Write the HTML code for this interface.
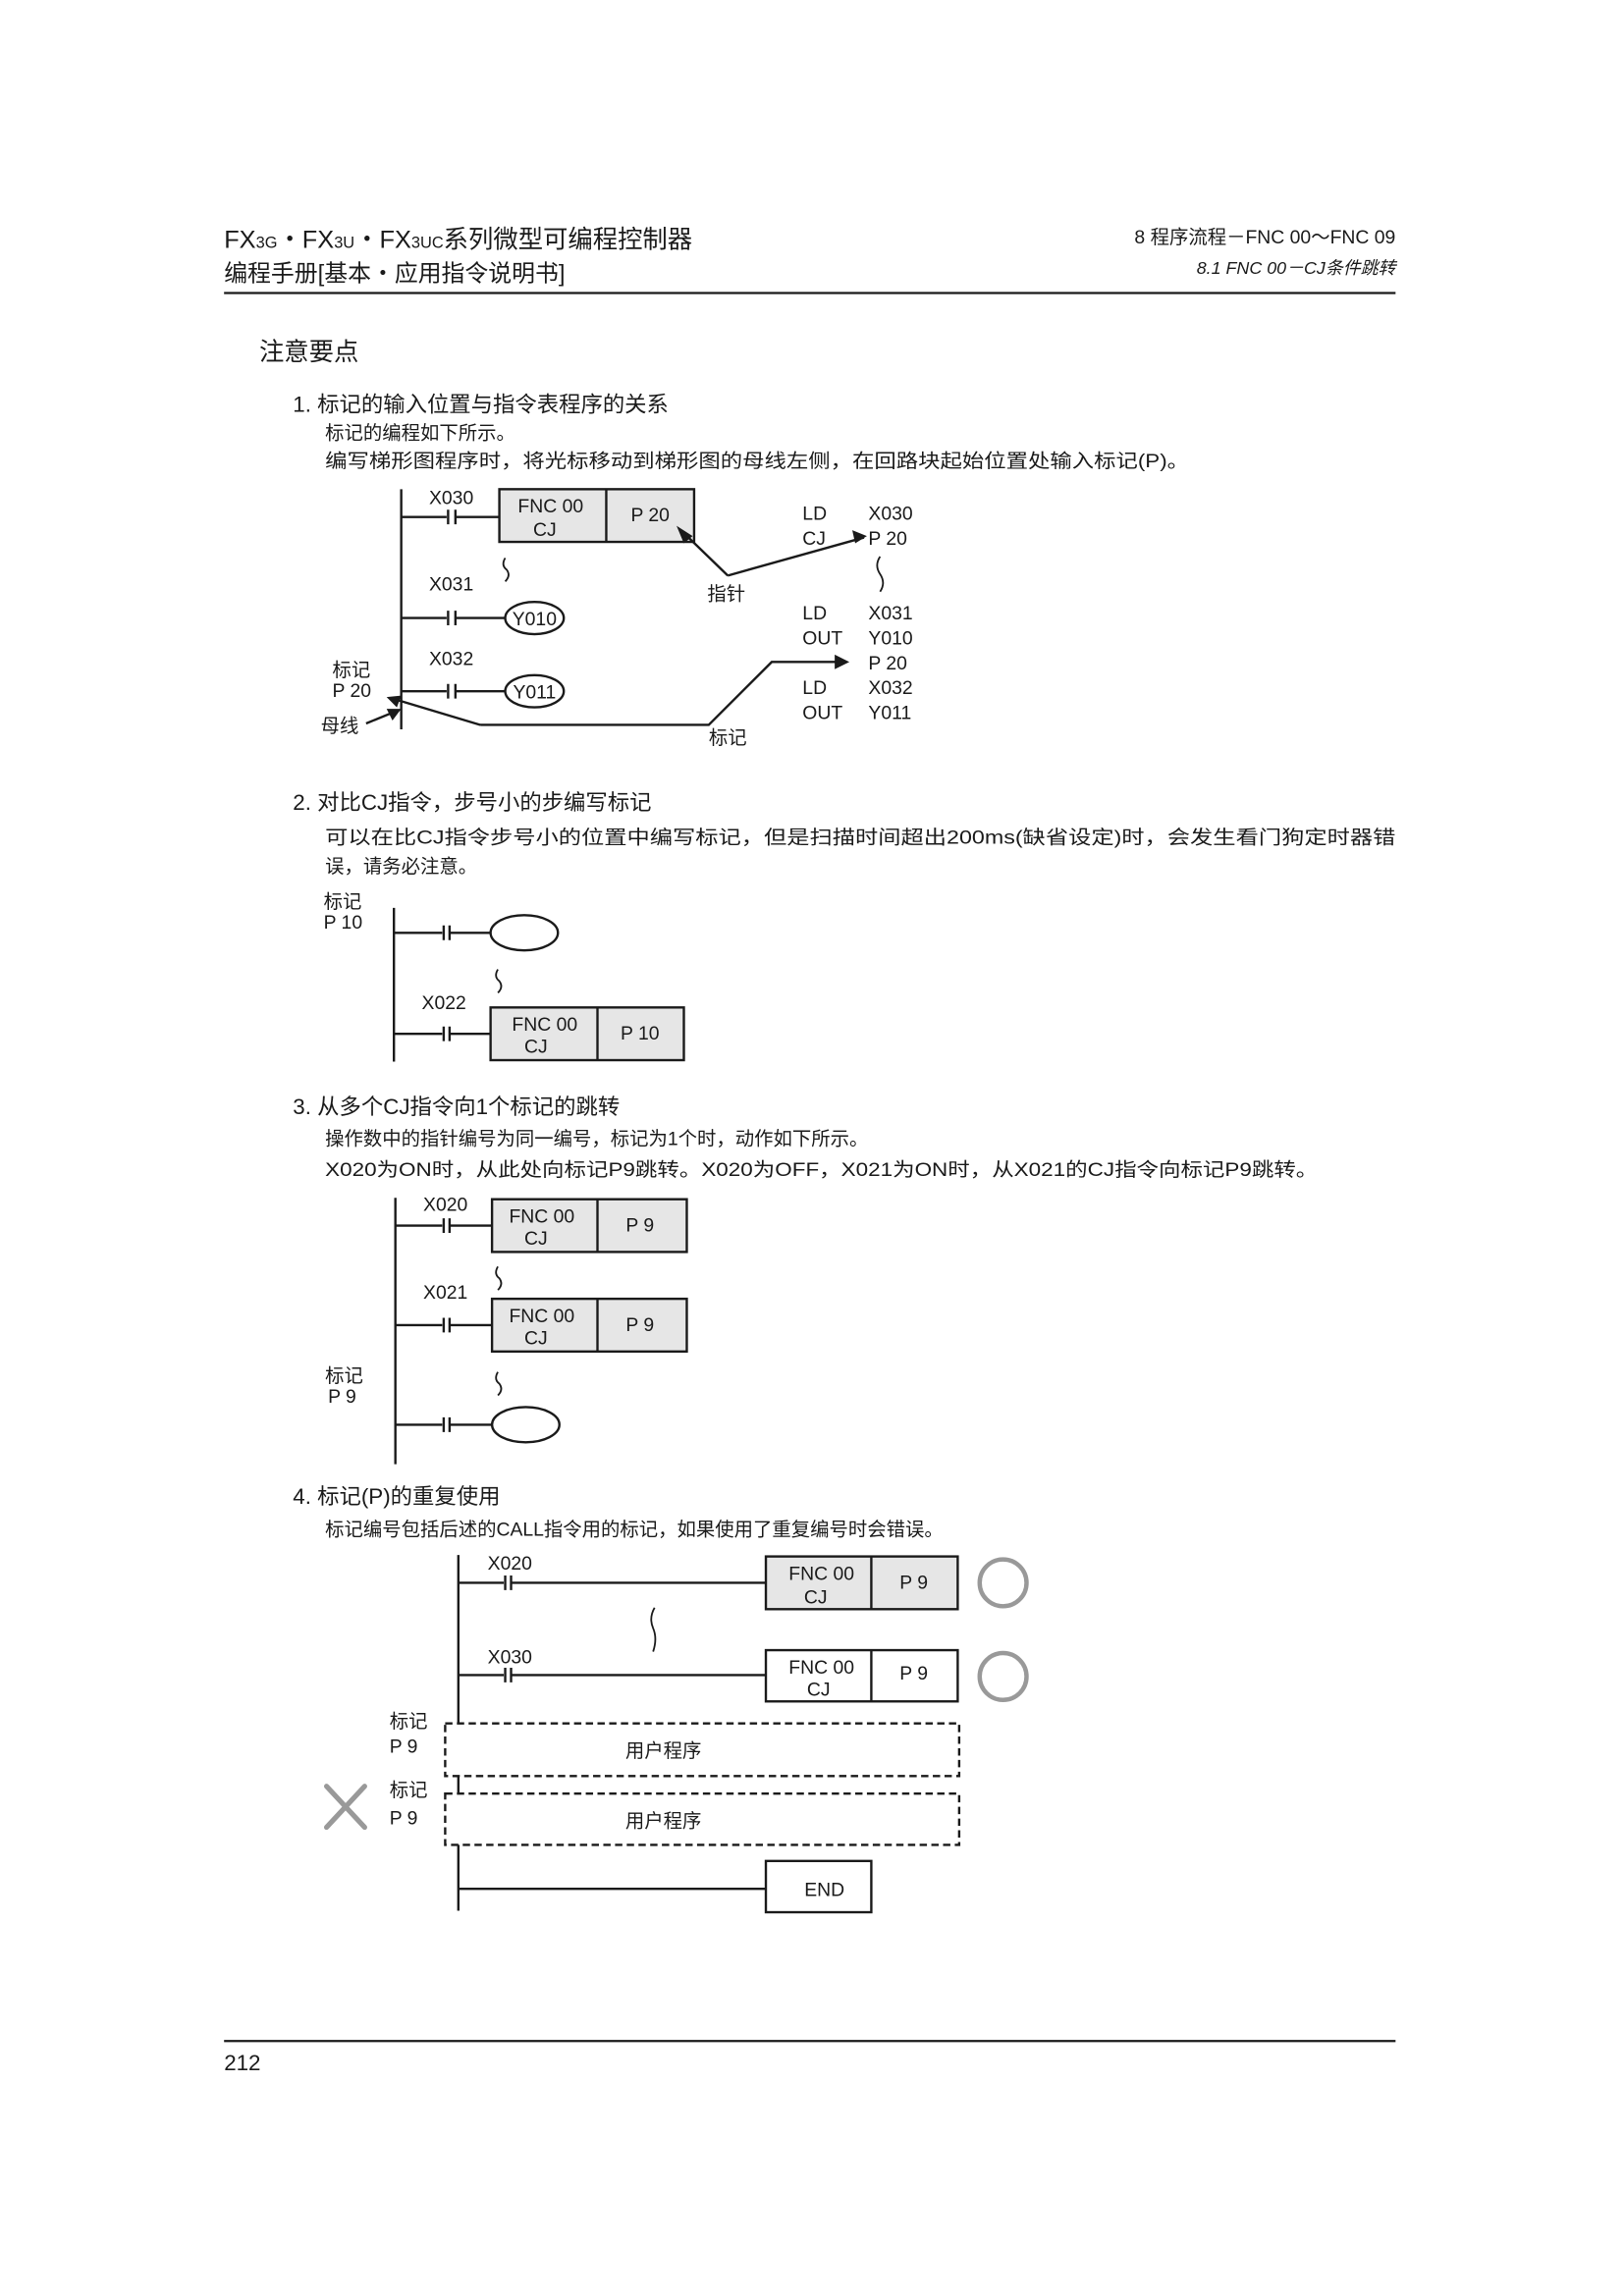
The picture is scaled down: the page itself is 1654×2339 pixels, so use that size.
<!DOCTYPE html>
<html><head><meta charset="utf-8"><style>
html,body{margin:0;padding:0;background:#fff}
svg{display:block}
text{font-family:"Liberation Sans Narrow","Liberation Sans","Noto Sans CJK SC",sans-serif;fill:#1a1a1a}
</style></head><body>
<svg width="1654" height="2339" viewBox="0 0 1109 1568" xmlns="http://www.w3.org/2000/svg">
<rect width="1109" height="1568" fill="#fff"/>
<!-- header -->
<text x="153" y="169" font-size="17">FX<tspan font-size="11">3G</tspan>・FX<tspan font-size="11">3U</tspan>・FX<tspan font-size="11">3UC</tspan>系列微型可编程控制器</text>
<text x="153" y="192" font-size="16">编程手册[基本・应用指令说明书]</text>
<text x="953" y="166" font-size="13" text-anchor="end">8 程序流程－FNC 00～FNC 09</text>
<text x="953" y="187" font-size="12" text-anchor="end" font-style="italic">8.1 FNC 00－CJ条件跳转</text>
<line x1="153" y1="200" x2="953" y2="200" stroke="#1a1a1a" stroke-width="1.5"/>

<text x="177" y="246" font-size="17">注意要点</text>
<text x="200" y="281" font-size="15">1. 标记的输入位置与指令表程序的关系</text>
<text x="222" y="300" font-size="13">标记的编程如下所示。</text>
<text x="222" y="319" font-size="13" textLength="590" lengthAdjust="spacingAndGlyphs">编写梯形图程序时，将光标移动到梯形图的母线左侧，在回路块起始位置处输入标记(P)。</text>

<g stroke="#1a1a1a" stroke-width="1.6" fill="none">
<!-- diagram 1 -->
<line x1="274" y1="334" x2="274" y2="498"/>
<path d="M274 353H305M306 348V358M311 348V358M311 353H341"/>
<path d="M274 422H305M306 417V427M311 417V427M311 422H345"/>
<path d="M274 472H305M306 467V477M311 467V477M311 472H345"/>
<rect x="341" y="334" width="133" height="36" fill="#e6e6e6"/>
<line x1="414" y1="334" x2="414" y2="370"/>
<ellipse cx="365" cy="422" rx="20" ry="11"/>
<ellipse cx="365" cy="472" rx="20" ry="11"/>
<path d="M345 381q-3 5 1 8q3 4-1 8" stroke-width="1.2"/>
<path d="M497 393L465 362M497 393L590 367"/>
<path d="M328 495L268 477M328 495H484L527 452H578"/>
<path d="M250 494L272 485"/>
<path d="M601 380q-4 6 0 12q4 6 0 12" stroke-width="1.2"/>
</g>
<g fill="#1a1a1a">
<polygon points="462,359 473,366 467,371"/>
<polygon points="592,366 582,362 584,371"/>
<polygon points="264,476 274,475 271,483"/>
<polygon points="580,452 570,447 570,457"/>
<polygon points="274,484 264,484 268,492"/>
</g>
<g font-size="13">
<text x="293" y="344">X030</text>
<text x="376" y="350" text-anchor="middle">FNC 00</text>
<text x="372" y="366" text-anchor="middle">CJ</text>
<text x="444" y="356" text-anchor="middle">P 20</text>
<text x="293" y="403">X031</text>
<text x="365" y="427" text-anchor="middle">Y010</text>
<text x="293" y="454">X032</text>
<text x="365" y="477" text-anchor="middle">Y011</text>
<text x="227" y="462">标记</text>
<text x="227" y="476">P 20</text>
<text x="219" y="500">母线</text>
<text x="483" y="410">指针</text>
<text x="484" y="508">标记</text>
<text x="548" y="355">LD</text><text x="593" y="355">X030</text>
<text x="548" y="372">CJ</text><text x="593" y="372">P 20</text>
<text x="548" y="423">LD</text><text x="593" y="423">X031</text>
<text x="548" y="440">OUT</text><text x="593" y="440">Y010</text>
<text x="593" y="457">P 20</text>
<text x="548" y="474">LD</text><text x="593" y="474">X032</text>
<text x="548" y="491">OUT</text><text x="593" y="491">Y011</text>
</g>

<!-- section 2 -->
<text x="200" y="553" font-size="15">2. 对比CJ指令，步号小的步编写标记</text>
<text x="222" y="576" font-size="13" textLength="731" lengthAdjust="spacingAndGlyphs">可以在比CJ指令步号小的位置中编写标记，但是扫描时间超出200ms(缺省设定)时，会发生看门狗定时器错</text>
<text x="222" y="596" font-size="13">误，请务必注意。</text>
<g stroke="#1a1a1a" stroke-width="1.6" fill="none">
<line x1="269" y1="620" x2="269" y2="725"/>
<path d="M269 637H302M303 632V642M307 632V642M307 637H335"/>
<ellipse cx="358" cy="637" rx="23" ry="12"/>
<path d="M340 662q-3 5 1 8q3 4-1 8" stroke-width="1.2"/>
<path d="M269 706H302M303 701V711M307 701V711M307 706H335"/>
<rect x="335" y="688" width="132" height="36" fill="#e6e6e6"/>
<line x1="408" y1="688" x2="408" y2="724"/>
</g>
<g font-size="13">
<text x="221" y="620">标记</text><text x="221" y="634">P 10</text>
<text x="288" y="689">X022</text>
<text x="372" y="704" text-anchor="middle">FNC 00</text>
<text x="366" y="719" text-anchor="middle">CJ</text>
<text x="437" y="710" text-anchor="middle">P 10</text>
</g>

<!-- section 3 -->
<text x="200" y="761" font-size="15">3. 从多个CJ指令向1个标记的跳转</text>
<text x="222" y="782" font-size="13">操作数中的指针编号为同一编号，标记为1个时，动作如下所示。</text>
<text x="222" y="803" font-size="13" textLength="678" lengthAdjust="spacingAndGlyphs">X020为ON时，从此处向标记P9跳转。X020为OFF，X021为ON时，从X021的CJ指令向标记P9跳转。</text>
<g stroke="#1a1a1a" stroke-width="1.6" fill="none">
<line x1="270" y1="818" x2="270" y2="1000"/>
<path d="M270 837H302M303 832V842M307 832V842M307 837H336"/>
<rect x="336" y="819" width="133" height="36" fill="#e6e6e6"/>
<line x1="408" y1="819" x2="408" y2="855"/>
<path d="M340 865q-3 5 1 8q3 4-1 8" stroke-width="1.2"/>
<path d="M270 905H302M303 900V910M307 900V910M307 905H336"/>
<rect x="336" y="887" width="133" height="36" fill="#e6e6e6"/>
<line x1="408" y1="887" x2="408" y2="923"/>
<path d="M340 937q-3 5 1 8q3 4-1 8" stroke-width="1.2"/>
<path d="M270 973H302M303 968V978M307 968V978M307 973H336"/>
<ellipse cx="359" cy="973" rx="23" ry="12"/>
</g>
<g font-size="13">
<text x="289" y="827">X020</text>
<text x="370" y="835" text-anchor="middle">FNC 00</text>
<text x="366" y="850" text-anchor="middle">CJ</text>
<text x="437" y="841" text-anchor="middle">P  9</text>
<text x="289" y="887">X021</text>
<text x="370" y="903" text-anchor="middle">FNC 00</text>
<text x="366" y="918" text-anchor="middle">CJ</text>
<text x="437" y="909" text-anchor="middle">P  9</text>
<text x="222" y="944">标记</text><text x="224" y="958">P 9</text>
</g>

<!-- section 4 -->
<text x="200" y="1027" font-size="15">4. 标记(P)的重复使用</text>
<text x="222" y="1049" font-size="13">标记编号包括后述的CALL指令用的标记，如果使用了重复编号时会错误。</text>
<g stroke="#1a1a1a" stroke-width="1.6" fill="none">
<path d="M313 1062V1177M313 1213V1225M313 1260V1305"/>
<path d="M313 1081H344M345 1076V1086M349 1076V1086M349 1081H523"/>
<rect x="523" y="1063" width="131" height="36" fill="#e6e6e6"/>
<line x1="595" y1="1063" x2="595" y2="1099"/>
<path d="M313 1144H344M345 1139V1149M349 1139V1149M349 1144H523"/>
<rect x="523" y="1127" width="131" height="35"/>
<line x1="595" y1="1127" x2="595" y2="1162"/>
<path d="M447 1098q-4 7-1 14q3 7 0 16" stroke-width="1.2"/>
<rect x="304" y="1177" width="351" height="36" stroke-dasharray="5,3"/>
<rect x="304" y="1225" width="351" height="35" stroke-dasharray="5,3"/>
<path d="M313 1290H523"/>
<rect x="523" y="1271" width="72" height="35"/>
</g>
<circle cx="685" cy="1081" r="16" stroke="#999" stroke-width="3" fill="none"/>
<circle cx="685" cy="1145" r="16" stroke="#999" stroke-width="3" fill="none"/>
<path d="M223 1220L249 1248M249 1220L223 1248" stroke="#999" stroke-width="3.5" stroke-linecap="round"/>
<g font-size="13">
<text x="333" y="1072">X020</text>
<text x="561" y="1079" text-anchor="middle">FNC 00</text>
<text x="557" y="1095" text-anchor="middle">CJ</text>
<text x="624" y="1085" text-anchor="middle">P 9</text>
<text x="333" y="1136">X030</text>
<text x="561" y="1143" text-anchor="middle">FNC 00</text>
<text x="559" y="1158" text-anchor="middle">CJ</text>
<text x="624" y="1147" text-anchor="middle">P 9</text>
<text x="266" y="1180">标记</text><text x="266" y="1197">P 9</text>
<text x="266" y="1227">标记</text><text x="266" y="1246">P 9</text>
<text x="453" y="1200" text-anchor="middle">用户程序</text>
<text x="453" y="1248" text-anchor="middle">用户程序</text>
<text x="563" y="1295" text-anchor="middle">END</text>
</g>

<line x1="153" y1="1394" x2="953" y2="1394" stroke="#1a1a1a" stroke-width="1.5"/>
<text x="153" y="1414" font-size="15">212</text>
</svg>
</body></html>
